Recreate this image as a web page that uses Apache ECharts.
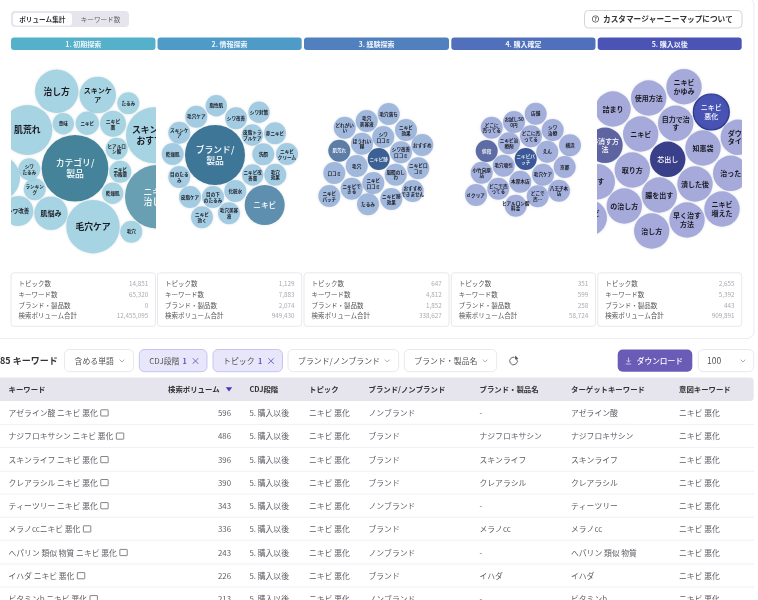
<!DOCTYPE html>
<html lang="ja">
<head>
<meta charset="UTF-8">
<title>カスタマージャーニーマップ</title>
<script src="https://cdn.jsdelivr.net/npm/echarts@6/dist/echarts.min.js"></script>
<style>
  html, body { margin: 0; padding: 0; background: #fff; overflow: hidden; }
  #main { width: 758px; height: 600px; }
</style>
</head>
<body>
<div id="main"></div>
<script>
var stageNames = ['1. 初期探索', '2. 情報探索', '3. 経験探索', '4. 購入確定', '5. 購入以後'];
var statNames = ['トピック数', 'キーワード数', 'ブランド・製品数', '検索ボリューム合計'];
var statValues = [
  ['14,851', '65,320', '0', '12,455,095'],
  ['1,129', '7,883', '2,074', '949,430'],
  ['647', '4,812', '1,852', '338,627'],
  ['351', '599', '258', '58,724'],
  ['2,655', '5,392', '443', '909,891']
];

// bubbles: label, x, y, radius, tone (0 light, 1 mid, 2 dark, 3 selected)
var stage1 = [
  ['治し方', 56.7, 91.3, 21.7, 0], ['スキンケ\nア', 97.7, 95, 18.3, 0], ['たるみ', 128.3, 103.3, 11, 0],
  ['肌荒れ', 27.3, 130, 25, 0], ['意味', 63.3, 123.7, 10.7, 0], ['ニキビ', 87.3, 123.3, 11.7, 0],
  ['ニキビ\n薬', 113, 123.7, 13, 0], ['スキンケア\nおすすめ', 154, 135.3, 28, 0],
  ['ヒアルロ\nン酸', 116.7, 148.7, 11, 0], ['カテゴリ/\n製品', 75, 168.3, 33.3, 2],
  ['ニキビ\n治し方', 156.7, 196.7, 31.7, 1], ['ニキビ\n市販薬', 120.3, 171.7, 11, 0],
  ['乾燥肌', 112.7, 193.3, 10.7, 0], ['毛穴', 131.3, 231.7, 11, 0], ['毛穴ケア', 93, 226.7, 26.7, 0],
  ['肌悩み', 51, 213.3, 16.7, 0], ['シワ改善', 18.3, 211, 15, 0], ['ランキン\nグ', 34.7, 189.3, 11, 0],
  ['シワ\nたるみ', 29.3, 169.3, 11, 0], ['', -3, 178, 23, 0]
];
var stage2 = [
  ['脂性肌', 216.3, 105.7, 10.7, 0], ['シワ対策', 259, 112.3, 10.7, 0], ['毛穴ケア', 196.3, 116.7, 11, 0],
  ['シワ改善', 236, 118.3, 11, 0], ['スキンケ\nア', 179.3, 132.7, 11, 0], ['皮脂トラ\nブルケア', 252.3, 135, 10.7, 0],
  ['赤ニキビ', 275, 133.3, 11, 0], ['ブランド/\n製品', 215, 155, 30, 2], ['乾燥肌', 172.7, 154, 11, 0],
  ['洗顔', 263.3, 154.3, 11, 0], ['ニキビ\nクリーム', 287, 154, 11, 0], ['目のたる\nみ', 179.3, 177, 11, 0],
  ['ニキビ改\n善薬', 252.7, 175, 10.7, 0], ['毛穴\n効果', 275.3, 174.7, 11, 0], ['化粧水', 235.3, 191, 11, 0],
  ['目の下\nのたるみ', 213, 197, 11, 0], ['皮脂ケア', 190, 197, 11, 0], ['ニキビ', 264.7, 205, 20, 1],
  ['ニキビ\n効く', 202, 217.3, 11, 0], ['毛穴美容\n液', 229, 213.3, 11, 0]
];
var stage3 = [
  ['毛穴落ち', 388.7, 114, 11, 0], ['毛穴\n美容液', 366.7, 121, 11, 0], ['ニキビ\n効果', 406, 130, 11, 0],
  ['どれがい\nい', 344.7, 127.7, 11, 0], ['シワ\n口コミ', 383.3, 137, 11, 0], ['ほうれい\n線', 362, 143.7, 11, 0],
  ['おすすめ', 422.3, 145, 11, 0], ['肌荒れ', 339.3, 150.7, 11, 1], ['シワ改善\n口コミ', 401, 152.3, 11, 0],
  ['ニキビ跡', 378.7, 159, 11, 2], ['毛穴', 356.7, 166, 11, 0], ['ニキビ口\nコミ', 418.3, 168.3, 11, 0],
  ['口コミ', 334.3, 173, 11, 0], ['眉間のし\nわ', 395.7, 174.7, 11, 0], ['ニキビ\n口コミ', 373.3, 183, 11, 0],
  ['おすすめ\nできません', 412.7, 191, 11, 0], ['ニキビで\nきる', 351.7, 188.7, 11, 0], ['ニキビ\nパッチ', 329.3, 196, 11, 0],
  ['ニキビ跡\n効果', 391.3, 199, 11, 0], ['たるみ', 368, 204.3, 11, 0]
];
var stage4 = [
  ['店舗', 535.7, 113.7, 11, 0], ['お試し50\n0円', 514, 122, 11, 0], ['どこに\n売ってる', 491.7, 127.7, 11, 0],
  ['シワ\n治療', 552.7, 130, 11, 0], ['どこに売\nってる', 531, 136.3, 11, 0], ['ニキビ治\n療剤', 509, 143.3, 11, 0],
  ['横浜', 570, 145.3, 11, 0], ['値段', 486.7, 151, 11, 1], ['えん', 547.3, 151.7, 11, 0],
  ['ニキビパ\nッチ', 525.7, 159, 11, 2], ['毛穴吸引', 503.7, 165.7, 11, 0], ['京都', 564.7, 167, 11, 0],
  ['小竹向原\n店', 481.7, 172.7, 11, 0], ['毛穴ケア', 543, 174.7, 11, 0], ['本厚木店', 520.3, 181.7, 11, 0],
  ['どこで売\nってる', 498.3, 188.7, 11, 0], ['八王子本\n店', 559, 190.7, 11, 0], ['d クリア', 476, 195, 11, 0],
  ['どこで\n売…', 537.7, 196.3, 11, 0], ['ヒアルロン酸\n料金', 515.7, 205.7, 11, 0]
];
var stage5 = [
  ['ニキビ\nかゆみ', 684, 86.7, 17.7, 0], ['使用方法', 648.7, 98, 17.7, 0], ['詰まり', 613, 109, 17.7, 0],
  ['自力で治\nす', 675.7, 123.3, 17.7, 0], ['ニキビ\n悪化', 711.3, 112, 18, 3], ['ニキビ', 640.7, 134, 17.7, 0],
  ['跡消す方\n法', 605, 145.3, 17.7, 1], ['ダウン\nタイム', 738.3, 137.3, 17.7, 0], ['知恵袋', 703, 148, 17.7, 0],
  ['芯出し', 667.7, 159.3, 17.7, 2], ['治った', 730.7, 173.3, 17.7, 0], ['取り方', 632.3, 170, 17.7, 0],
  ['潰した後', 695, 184, 17.7, 0], ['治す', 597.3, 181.7, 17.7, 0], ['膿を出す', 659.3, 195, 17.7, 0],
  ['ニキビ\n増えた', 722, 209, 17.7, 0], ['の治し方', 624.3, 206, 17.7, 0], ['早く治す\n方法', 687, 220, 17.7, 0],
  ['治し方', 651.7, 231, 17.7, 0], ['ニキビ\n治す', 589.3, 217.7, 17.7, 0]
];
var stageBubbles = [stage1, stage2, stage3, stage4, stage5];

var tableCols = ['キーワード', '検索ボリューム', 'CDJ段階', 'トピック', 'ブランド/ノンブランド', 'ブランド・製品名', 'ターゲットキーワード', '意図キーワード'];
var rowKeywords = ['アゼライン酸 ニキビ 悪化', 'ナジフロキサシン ニキビ 悪化', 'スキンライフ ニキビ 悪化', 'クレアラシル ニキビ 悪化', 'ティーツリー ニキビ 悪化', 'メラノccニキビ 悪化', 'ヘパリン 類似 物質 ニキビ 悪化', 'イハダ ニキビ 悪化', 'ビタミンb ニキビ 悪化'];
var rowVolumes = [596, 486, 396, 390, 343, 336, 243, 226, 213];
var rowBrandTypes = ['ノンブランド', 'ブランド', 'ブランド', 'ブランド', 'ノンブランド', 'ブランド', 'ノンブランド', 'ブランド', 'ノンブランド'];
var rowProducts = ['-', 'ナジフロキサシン', 'スキンライフ', 'クレアラシル', '-', 'メラノcc', '-', 'イハダ', '-'];
var rowTargets = ['アゼライン酸', 'ナジフロキサシン', 'スキンライフ', 'クレアラシル', 'ティーツリー', 'メラノcc', 'ヘパリン 類似 物質', 'イハダ', 'ビタミンb'];

var FONT = '"Noto Sans CJK JP", "Noto Sans", sans-serif';
var stageX = [[11, 155.5], [157.5, 301.7], [304, 449], [451.3, 595.5], [597.7, 741.7]];
var stageColors = ['#55b0ca', '#4f9bc7', '#5180bf', '#5170bc', '#4b54b5'];
var tones = [
  ['#a7d4e3', '#699fb2', '#44839a'],
  ['#a3cce3', '#5f8fae', '#3e7698'],
  ['#a1b8dd', '#5c7da6', '#3b6093'],
  ['#a3b0dc', '#5d6ca4', '#3c5997'],
  ['#a5aada', '#5e64a2', '#3a3f8a', '#4853b4']
];

function bubbleFont(r) {
  if (r < 12) return 4.6;
  if (r < 14) return 4.9;
  if (r < 16) return 5.5;
  if (r < 19) return 7;
  if (r < 21) return 7.6;
  return 8.8;
}

var g = [];
function rect(x, y, w, h, r, fill, stroke) {
  g.push({ type: 'rect', silent: true, shape: { x: x, y: y, width: w, height: h, r: r },
    style: { fill: fill, stroke: stroke || null, lineWidth: stroke ? 0.8 : 0 } });
}
function text(s, x, y, size, color, weight, align) {
  g.push({ type: 'text', silent: true, z: 5, style: { text: s, x: x, y: y, fontFamily: FONT, fontSize: size,
    fontWeight: weight || 400, fill: color, align: align || 'left', verticalAlign: 'middle' } });
}
function chevron(x, y, color) {
  g.push({ type: 'polyline', silent: true, shape: { points: [[x - 2.4, y - 1.2], [x, y + 1.2], [x + 2.4, y - 1.2]] },
    style: { fill: null, stroke: color || '#888', lineWidth: 0.7 } });
}

// outer card
rect(-6, -2, 760, 340.5, 7, '#fff', '#e6e6ec');

// tabs and help button
rect(11, 11, 118, 16, 4, '#e6e4ec');
rect(13, 13, 59, 12.4, 3, '#fff');
text('ボリューム集計', 42.3, 19.5, 6.6, '#333', 600, 'center');
text('キーワード数', 100.5, 19.5, 6.6, '#666', 400, 'center');
rect(584.5, 10.5, 157.5, 17.5, 4, '#fff', '#c9c9ce');
g.push({ type: 'circle', silent: true, shape: { cx: 595.5, cy: 19, r: 3.2 }, style: { fill: null, stroke: '#333', lineWidth: 0.7 } });
text('?', 595.5, 19, 5, '#333', 600, 'center');
text('カスタマージャーニーマップについて', 603, 19, 7.65, '#333', 600);

// stage headers and stat cards
stageNames.forEach(function (name, i) {
  var x0 = stageX[i][0], x1 = stageX[i][1];
  rect(x0, 37.6, x1 - x0, 12.4, 3, stageColors[i]);
  text(name, (x0 + x1) / 2, 44, 7, '#eef4fb', 600, 'center');
  rect(x0, 272.8, x1 - x0, 53.6, 3, '#fff', '#e2e2e8');
  statNames.forEach(function (label, k) {
    var y = 283.7 + k * 10.75;
    text(label, x0 + 7.5, y, 6.5, '#555', 400);
    text(statValues[i][k], x1 - 7.3, y, 6.3, '#aaaab2', 400, 'right');
  });
});

// filter row
text('85 キーワード', 0, 361, 9, '#333', 700);
function chip(x0, x1, label, active) {
  rect(x0, 349.5, x1 - x0, 22.2, 5, active ? '#e7e6fa' : '#fff', active ? '#bcb9ec' : '#e2e2e8');
  text(label, x0 + 10, 360.6, 7.9, '#555', 400);
  if (active) {
    text('1', x1 - 22.5, 360.8, 7.2, '#5a4fc0', 700, 'center');
    text('×', x1 - 11.5, 360.6, 9.5, '#6a62c4', 400, 'center');
  } else {
    chevron(x1 - 11.5, 360.8);
  }
}
chip(64.5, 133.5, '含める単語', false);
chip(139.3, 207, 'CDJ段階', true);
chip(213, 282.5, 'トピック', true);
chip(288, 398.7, 'ブランド/ノンブランド', false);
chip(404.3, 496.7, 'ブランド・製品名', false);
g.push({ type: 'arc', silent: true, shape: { cx: 513.5, cy: 361, r: 3.8, startAngle: -0.6, endAngle: 5.0, clockwise: true },
  style: { fill: null, stroke: '#555', lineWidth: 0.9 } });
g.push({ type: 'polygon', silent: true, shape: { points: [[515.2, 355.6], [518.4, 358.8], [515, 359.6]] }, style: { fill: '#555' } });

rect(617.7, 349.5, 74.6, 22.2, 5, '#6a5cb6');
g.push({ type: 'polyline', silent: true, shape: { points: [[628.5, 357.5], [628.5, 362]] }, style: { fill: null, stroke: '#e9e6f7', lineWidth: 0.7 } });
g.push({ type: 'polyline', silent: true, shape: { points: [[626.6, 360.2], [628.5, 362.2], [630.4, 360.2]] }, style: { fill: null, stroke: '#e9e6f7', lineWidth: 0.7 } });
g.push({ type: 'polyline', silent: true, shape: { points: [[625.8, 364], [631.2, 364]] }, style: { fill: null, stroke: '#e9e6f7', lineWidth: 0.7 } });
text('ダウンロード', 636.8, 360.6, 7.7, '#fff', 500);
rect(698.3, 349.5, 55.4, 22.2, 5, '#fff', '#e2e2e8');
text('100', 707, 360.8, 8.5, '#555', 400);
chevron(743, 360.8);

// table header
rect(-6, 377.4, 759.7, 23.6, 4, '#e6e4ec');
var colX = [8.5, 168, 249.5, 309, 368.5, 479.5, 571, 679];
tableCols.forEach(function (c, i) { text(c, colX[i], 389.5, 7.4, '#333', 700); });
g.push({ type: 'polygon', silent: true, shape: { points: [[225.8, 387.3], [232.2, 387.3], [229, 391.6]] }, style: { fill: '#4a35c0' } });

// table rows
var ROW_FONT = 7.8;
var measure = document.createElement('canvas').getContext('2d');
measure.font = ROW_FONT + 'px ' + FONT;
var rowY = [413, 436.2, 459.7, 482.7, 505.8, 529, 552.6, 575.8, 598.8];
var rowLine = [424.4, 447.5, 471.3, 494, 517.3, 540.3, 564, 587];
rowLine.forEach(function (y) {
  g.push({ type: 'line', silent: true, shape: { x1: 0, y1: y, x2: 754, y2: y }, style: { stroke: '#eeeef2', lineWidth: 0.8 } });
});
rowKeywords.forEach(function (kw, i) {
  var y = rowY[i], tc = '#5c5c64';
  text(kw, 8.5, y, ROW_FONT, tc);
  rect(8.5 + measure.measureText(kw).width + 3, y - 3.2, 7.4, 6.2, 0.4, 'transparent', '#666');
  text(String(rowVolumes[i]), 231, y, ROW_FONT, tc, 400, 'right');
  text(stageNames[4], 249.5, y, ROW_FONT, tc);
  text('ニキビ 悪化', 309, y, ROW_FONT, tc);
  text(rowBrandTypes[i], 368.5, y, ROW_FONT, tc);
  text(rowProducts[i], 479.5, y, ROW_FONT, tc);
  text(rowTargets[i], 571, y, ROW_FONT, tc);
  text('ニキビ 悪化', 679, y, ROW_FONT, tc);
});

function renderBubble(i, params, api) {
  var c = api.coord([api.value(0), api.value(1)]);
  var r = api.size([api.value(2), 0])[0];
  var tone = api.value(3);
  var size = bubbleFont(api.value(2));
  return {
    type: 'group',
    children: [
      { type: 'circle', shape: { cx: c[0], cy: c[1], r: r },
        style: { fill: tones[i][tone], stroke: tone === 3 ? '#2c3a8e' : null, lineWidth: tone === 3 ? 1.2 : 0,
          shadowBlur: 3, shadowColor: 'rgba(40,50,90,0.12)' } },
      { type: 'text', z2: 10,
        style: { text: stageBubbles[i][params.dataIndex][0], x: c[0], y: c[1], align: 'center', verticalAlign: 'middle',
          fontFamily: FONT, fontSize: size, fontWeight: tone ? 500 : 700, lineHeight: size * 1.22,
          fill: tone ? '#fff' : '#1a1a22' } }
    ]
  };
}

var option = {
  animation: false,
  grid: stageX.map(function (r) { return { left: r[0], width: r[1] - r[0], top: 55, height: 210 }; }),
  xAxis: stageX.map(function (r, i) { return { type: 'value', gridIndex: i, min: r[0], max: r[1], show: false }; }),
  yAxis: stageX.map(function (r, i) { return { type: 'value', gridIndex: i, min: 55, max: 265, inverse: true, show: false }; }),
  graphic: { elements: g },
  series: stageBubbles.map(function (rows, i) {
    return {
      type: 'custom', xAxisIndex: i, yAxisIndex: i, clip: true, silent: true,
      renderItem: function (params, api) { return renderBubble(i, params, api); },
      encode: { x: 0, y: 1 },
      data: rows.map(function (b) { return [b[1], b[2], b[3], b[4]]; })
    };
  })
};

var chart = echarts.init(document.getElementById('main'));
chart.setOption(option);
</script>
</body>
</html>
